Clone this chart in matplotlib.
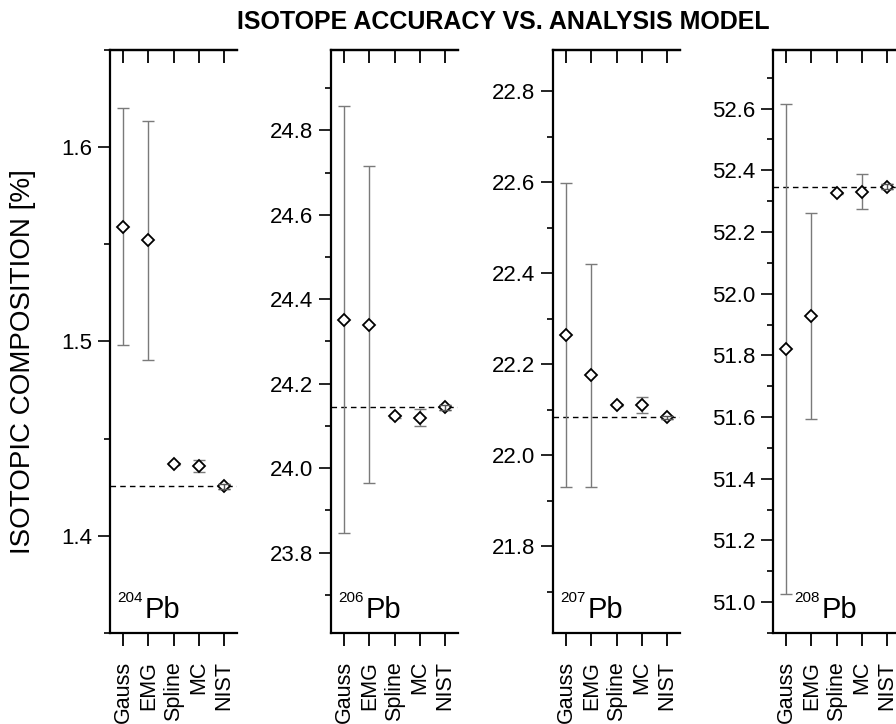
import matplotlib
matplotlib.use("Agg")
import matplotlib.pyplot as plt
from matplotlib.ticker import MultipleLocator, FormatStrFormatter
from matplotlib.transforms import offset_copy

plt.rcParams['font.family'] = ['Liberation Sans', 'DejaVu Sans']

models = ['Gauss', 'EMG', 'Spline', 'MC', 'NIST']

# isotope abundances [%] per analysis model, last entry is the certified NIST value
pb204 = [1.559, 1.552, 1.437, 1.436, 1.4255]
pb204_err = [0.061, 0.0615, 0.0005, 0.003, 0.0012]
pb206 = [24.352, 24.340, 24.123, 24.120, 24.1442]
pb206_err = [0.505, 0.376, 0.003, 0.020, 0.0057]
pb207 = [22.264, 22.176, 22.110, 22.110, 22.0833]
pb207_err = [0.333, 0.245, 0.002, 0.018, 0.004]
pb208 = [51.821, 51.928, 52.325, 52.330, 52.347]
pb208_err = [0.795, 0.333, 0.002, 0.057, 0.009]

masses = ['204', '206', '207', '208']

W, H = 896, 724
fig = plt.figure(figsize=(W / 100, H / 100), dpi=100)

# panel layout in pixels
lefts = [110, 331, 553, 773]
pw = 127
top_px, bot_px = 50, 633
ylims = [(1.35, 1.65), (23.61, 24.99), (21.61, 22.89), (50.9, 52.79)]
majors = [0.1, 0.2, 0.2, 0.2]
lab_x = [35, 35, 35, 49]

panels = [(pb204, pb204_err), (pb206, pb206_err), (pb207, pb207_err), (pb208, pb208_err)]
x = list(range(1, len(models) + 1))

for i, (vals, errs) in enumerate(panels):
    ax = fig.add_axes([lefts[i] / W, (H - bot_px) / H, pw / W, (bot_px - top_px) / H])

    ax.errorbar(x, vals, yerr=errs, fmt='none', ecolor='#7a7a7a', elinewidth=1,
                capsize=4, capthick=1, zorder=2)
    ax.plot(x, vals, linestyle='none', marker='D', markersize=6,
            markerfacecolor='white', markeredgecolor='black', markeredgewidth=1.3, zorder=3)
    # NIST uncertainty on top of its marker
    ax.errorbar(x[-1:], vals[-1:], yerr=errs[-1:], fmt='none', ecolor='#555555',
                elinewidth=1, capsize=4, capthick=1, zorder=4)
    ax.axhline(vals[-1], color='black', lw=1, linestyle=(0, (4, 3)), zorder=1)

    ax.set_xlim(0.48, 5.52)
    ax.set_ylim(*ylims[i])
    ax.yaxis.set_major_locator(MultipleLocator(majors[i]))
    ax.yaxis.set_minor_locator(MultipleLocator(majors[i] / 2))
    ax.yaxis.set_major_formatter(FormatStrFormatter('%.1f'))

    ax.set_xticks(x)
    ax.set_xticklabels(models, rotation=90, fontsize=15.5)
    ax.tick_params(axis='x', which='major', direction='out', length=9, width=1.3,
                   pad=11, top=False)
    ax.tick_params(axis='y', which='major', direction='out', length=9, width=1.2,
                   labelsize=16, pad=4)
    ax.tick_params(axis='y', which='minor', direction='out', length=4.5, width=1.2)

    sec = ax.secondary_xaxis('top')
    sec.set_xticks(x)
    sec.tick_params(direction='in', length=9, width=1.3, labeltop=False)
    sec.spines['top'].set_linewidth(1.6)

    ax.spines['right'].set_visible(False)
    for s in ['left', 'bottom', 'top']:
        ax.spines[s].set_linewidth(1.6)

    # isotope label, mass number as a small raised prefix
    base = offset_copy(ax.transAxes, fig=fig, x=lab_x[i], y=15, units='dots')
    ax.text(0, 0, 'Pb', transform=base, fontsize=21, ha='left', va='baseline')
    sup = offset_copy(ax.transAxes, fig=fig, x=lab_x[i] - 2, y=31, units='dots')
    ax.text(0, 0, masses[i], transform=sup, fontsize=11, ha='right', va='baseline')

fig.text(503 / W, 1 - 22 / H, 'ISOTOPE ACCURACY VS. ANALYSIS MODEL',
         ha='center', va='center', fontsize=18, fontweight='bold')
fig.text(23 / W, 1 - 362 / H, 'ISOTOPIC COMPOSITION [%]', rotation=90,
         ha='center', va='center', fontsize=20)

fig.savefig('out.png', dpi=100)
